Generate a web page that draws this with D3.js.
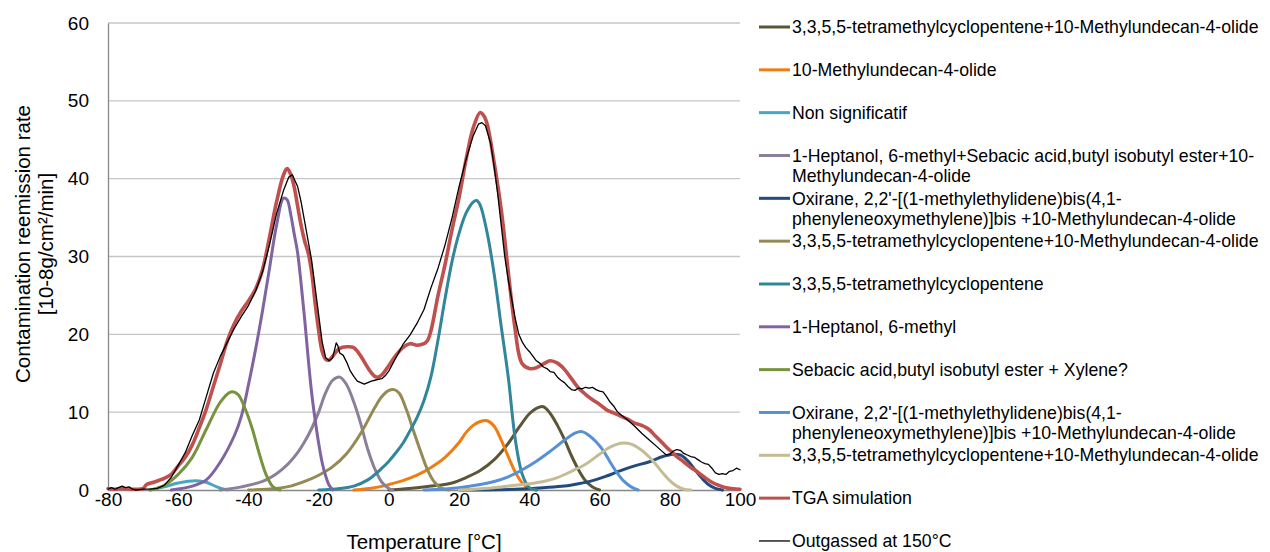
<!DOCTYPE html>
<html><head><meta charset="utf-8">
<script src="https://cdn.jsdelivr.net/npm/d3@7"></script>
<style>body{margin:0;background:#fff}svg{display:block;font-family:"Liberation Sans",Arial,sans-serif}</style>
</head><body><svg id="c" width="1270" height="552"></svg>
<script>
// ---- data: [temperature °C, rate] pairs ----
const xTicks = [-80,-60,-40,-20,0,20,40,60,80,100];
const yTicks = [0,10,20,30,40,50,60];

const darkOlive = [[0,0],[8,0.3],[14,0.6],[18,0.9],[22,1.6],[26,2.5],[30,3.9],[34,6],[37,8],[40,9.8],[42,10.5],[44,10.7],[46,9.8],[48,8.3],[50,6.5],[52,4.4],[54,2.6],[56,1.2],[58,0.4],[60,0]];
const orange = [[-10,0],[-4,0.3],[0,0.7],[4,1.2],[8,1.9],[12,2.9],[16,4.2],[20,6.1],[22,7.4],[24,8.3],[26,8.8],[28,8.9],[30,8.2],[32,6.4],[34,4.3],[36,2.3],[38,0.9],[40,0.2],[42,0]];
const nonSig = [[-68,0],[-64,0.4],[-60,0.9],[-55,1.2],[-52,1.0],[-49,0.4],[-46,0]];
const grayPurple = [[-48,0],[-42,0.4],[-36,1.1],[-32,2.1],[-30,2.8],[-28,3.7],[-26,4.8],[-24,6.2],[-22,7.9],[-20,10],[-18,12.5],[-16,14.1],[-14,14.5],[-12,13.5],[-10,11.3],[-8,8.5],[-6,5.2],[-4,2.7],[-2,1],[0,0.2],[1,0]];
const darkBlue = [[20,0],[36,0.1],[44,0.3],[50,0.5],[54,0.8],[58,1.2],[62,1.8],[66,2.5],[70,3.1],[74,3.6],[78,4.3],[81,4.6],[83,4.5],[85,3.8],[87,2.7],[89,1.6],[91,0.7],[93,0.2],[95,0]];
const olive = [[-40,0],[-32,0.2],[-28,0.5],[-24,1.1],[-20,1.9],[-16,3],[-12,4.7],[-8,7.3],[-4,10.6],[-2,12],[0,12.8],[1.5,12.9],[3,12.4],[5,10.3],[7,7.6],[9,5],[11,2.6],[13,1],[15,0.2],[17,0]];
const darkTeal = [[-20,0],[-14,0.2],[-10,0.5],[-6,1.3],[-2,2.8],[0,3.7],[2,4.8],[4,6],[6,7.6],[8,9.3],[10,11.5],[12,14.6],[14,19.3],[16,24.6],[18,29.4],[20,33],[22,35.6],[24,37],[25,37.2],[26,36.6],[28,33],[30,27.7],[32,21],[34,14.5],[36,6.5],[38,2],[40,0.3],[42,0]];
const purple = [[-62,0],[-56,0.5],[-52,1.3],[-48,3.6],[-44,7],[-42,9.5],[-40,13.5],[-38,18],[-36,23],[-34,28.5],[-32,34],[-30,37.5],[-29,37.3],[-28,35.5],[-27,33],[-26,30.5],[-25,26.5],[-24,22],[-23,17],[-22,12.5],[-21,9],[-20,6],[-19,3.5],[-18,1.8],[-17,0.6],[-16,0]];
const green = [[-68,0],[-64,0.6],[-60,2],[-56,4.2],[-52,7.8],[-48,11.3],[-45,12.6],[-43,12.3],[-41,10.5],[-39,8],[-37,4.8],[-35,2],[-33,0.4],[-31,0]];
const lightBlue = [[10,0],[20,0.3],[26,0.7],[30,1.1],[34,1.7],[38,2.6],[42,3.7],[46,5],[50,6.4],[53,7.3],[55,7.5],[57,7],[59,6.2],[61,5.1],[63,3.6],[65,2.2],[67,1.1],[69,0.4],[71,0]];
const khaki = [[20,0],[30,0.3],[36,0.6],[40,0.8],[44,1.1],[48,1.6],[52,2.4],[56,3.3],[60,4.6],[63,5.5],[66,6],[68,6.0],[70,5.7],[72,5.1],[74,4.3],[76,3.3],[78,2.2],[80,1.2],[82,0.5],[84,0.1],[86,0]];
const tga = [[-80,0.2],[-78,0.1],[-76,0.2],[-74,0.1],[-72,0.1],[-70,0.2],[-69,0.7],[-67,1.0],[-64,1.5],[-62,2.0],[-60,3.1],[-58,4.2],[-56,5.8],[-54,8.0],[-52,10.4],[-50,13.3],[-48,16.2],[-46,19.2],[-44,21.4],[-42,23.0],[-40,24.3],[-38,25.8],[-36,28.3],[-34,32.5],[-32,37],[-30,40.5],[-29,41.3],[-28,40.6],[-27,39],[-26,36.5],[-25,34],[-24,32],[-23,30.5],[-22,28],[-21,24],[-20,20.5],[-19,17.8],[-18,16.8],[-17,16.7],[-16,17.2],[-14,18.2],[-12,18.4],[-10,18.3],[-8,17.2],[-6,15.7],[-4,14.6],[-3,14.5],[-2,14.8],[0,16],[2,17.3],[4,18.3],[6,18.8],[8,18.6],[10,18.8],[11,19.2],[12,20.5],[14,25],[16,29],[18,33.5],[20,37.6],[22,42.5],[24,46.5],[26,48.5],[27,48.1],[28,47],[30,42],[32,36],[34,28],[35,24],[36,20.5],[37,17.5],[38,16.2],[40,15.6],[42,15.7],[44,16.2],[46,16.6],[48,16.3],[50,15.5],[52,14.3],[54,13.1],[56,12.3],[58,11.6],[60,11],[62,10.3],[64,9.9],[66,9.5],[68,9.1],[70,8.6],[72,8.3],[74,7.8],[76,6.9],[78,6],[80,5.1],[82,4.3],[84,3.6],[86,2.9],[88,2.3],[90,1.6],[92,1.0],[94,0.6],[96,0.3],[98,0.15],[100,0.1]];
const outgassed = [[-80,0.1],[-79,0.3],[-78,0.1],[-77,0.3],[-76,0.5],[-75,0.3],[-74,0.4],[-73,0.1],[-72,0],[-70,0.1],[-68,0.1],[-66,0.2],[-64,0.6],[-62,1.6],[-60,3.2],[-58,4.8],[-56,7],[-54,9],[-52,12],[-50,15],[-48,17.2],[-46,19],[-44,20.8],[-42,22.3],[-40,23.7],[-38,25.5],[-36,28],[-34,31.5],[-32,35.5],[-30,38.5],[-28.5,40.2],[-27.5,40.5],[-26,39],[-25,37],[-24,34.5],[-23,32],[-22,29.5],[-21,26],[-20,22.5],[-19,19],[-18,17],[-17,16.6],[-16,17],[-15,18.9],[-14.5,18.5],[-14,17.6],[-13,17.3],[-12,16.4],[-11,15.3],[-10,14.6],[-9,14],[-8,13.8],[-7,13.6],[-6,13.8],[-5,14],[-4,14.1],[-3,14.2],[-2,14.3],[-1,14.7],[0,15.3],[2,17],[4,18.7],[6,19.9],[8,21.4],[10,23.2],[12,26],[14,28.5],[16,31.5],[18,35],[20,39],[22,42.5],[24,45.5],[25.5,47],[26.5,47.2],[27.5,46.8],[29,44.5],[30,41.5],[31,38],[32,34],[33,30],[34,27],[35,24.5],[36,22],[37,20],[38,19],[39,18.3],[40,17.8],[41,17.2],[42,16.6],[43,16.3],[44,15.8],[45,15.6],[46,15.2],[47,15.1],[48,14.5],[49,14.1],[50,13.8],[51,13.3],[52,12.9],[53,12.8],[54,13.1],[55,13.0],[56,13.2],[57,13.1],[58,13.2],[59,12.9],[60,12.7],[61,12.6],[62,12.0],[63,11.3],[64,10.8],[65,10.1],[66,9.7],[68,9.0],[70,8.2],[72,7.3],[74,6.5],[76,5.7],[78,4.9],[79,4.5],[80,4.6],[81,5.0],[82,5.2],[83,5.1],[84,4.7],[85,4.5],[86,4.3],[87,4.2],[88,3.9],[89,3.6],[90,3.4],[91,3.3],[92,2.8],[93,2.2],[94,2.0],[95,2.1],[96,2.0],[97,2.4],[98,2.5],[99,2.8],[100,2.6]];

const seriesNames = [
  "3,3,5,5-tetramethylcyclopentene+10-Methylundecan-4-olide",
  "10-Methylundecan-4-olide",
  "Non significatif",
  "1-Heptanol, 6-methyl+Sebacic acid,butyl isobutyl ester+10-\nMethylundecan-4-olide",
  "Oxirane, 2,2'-[(1-methylethylidene)bis(4,1-\nphenyleneoxymethylene)]bis +10-Methylundecan-4-olide",
  "3,3,5,5-tetramethylcyclopentene+10-Methylundecan-4-olide",
  "3,3,5,5-tetramethylcyclopentene",
  "1-Heptanol, 6-methyl",
  "Sebacic acid,butyl isobutyl ester + Xylene?",
  "Oxirane, 2,2'-[(1-methylethylidene)bis(4,1-\nphenyleneoxymethylene)]bis +10-Methylundecan-4-olide",
  "3,3,5,5-tetramethylcyclopentene+10-Methylundecan-4-olide",
  "TGA simulation",
  "Outgassed at 150°C"
];
const seriesData = [darkOlive, orange, nonSig, grayPurple, darkBlue, olive, darkTeal, purple, green, lightBlue, khaki, tga, outgassed];
const seriesColors = ["#5b5638","#ef7d12","#4aa6be","#8c7f99","#234a7c","#948a54","#31869c","#8064a2","#77933c","#5890d6","#c4bc94","#c0504d","#000000"];

// ---- drawing ----
const svg = d3.select("#c");
const x = d3.scaleLinear().domain([-80,100]).range([108,740]);
const y = d3.scaleLinear().domain([0,60]).range([490,23]);

// gridlines
svg.append("g").selectAll("line").data(yTicks.filter(d=>d>0)).join("line")
  .attr("x1",x(-80)).attr("x2",x(100)).attr("y1",d=>y(d)).attr("y2",d=>y(d))
  .attr("stroke","#c6c6c6").attr("stroke-width",1.3);

// axes
const fmt = d => String(d);
const yAxis = svg.append("g").attr("transform",`translate(${x(-80)},0)`)
  .call(d3.axisLeft(y).tickValues(yTicks).tickFormat(fmt).tickSize(0).tickPadding(19));
const xAxis = svg.append("g").attr("transform",`translate(0,${y(0)})`)
  .call(d3.axisBottom(x).tickValues(xTicks).tickFormat(fmt).tickSize(0).tickPadding(2));
[yAxis,xAxis].forEach(g=>{
  g.select(".domain").attr("stroke","#888").attr("stroke-width",1.3);
  g.selectAll("text").attr("font-size",19).attr("fill","#000").attr("font-family","Liberation Sans, Arial, sans-serif");
});

// lines
const plot = svg.append("g");
seriesData.forEach((data,i)=>{
  const last = i===seriesData.length-1;
  const line = d3.line().x(d=>x(d[0])).y(d=>Math.min(y(d[1]), y(0)))
    .curve(last ? d3.curveLinear : d3.curveCatmullRom.alpha(0.5));
  plot.append("path").datum(data)
    .attr("d", line(data))
    .attr("fill","none").attr("stroke",seriesColors[i])
    .attr("stroke-width", last ? 1.3 : (i===11 ? 3.6 : 3))
    .attr("stroke-linejoin","round").attr("stroke-linecap","round");
});

// legend (white box covering axis overflow, as in the reference)
const lg = svg.append("g");
lg.append("rect").attr("x",756).attr("y",0).attr("width",514).attr("height",552).attr("fill","#fff");
seriesNames.forEach((name,i)=>{
  const cy = 27 + i*42.83;
  lg.append("line").attr("x1",759).attr("x2",790).attr("y1",cy).attr("y2",cy)
    .attr("stroke",seriesColors[i]).attr("stroke-width", i===12 ? 1.3 : 3);
  name.split("\n").forEach((t,k)=>{
    lg.append("text").attr("x",792).attr("y",cy + k*20.5).attr("dy","0.35em")
      .attr("font-size",17.7).attr("fill","#000").text(t);
  });
});

// axis titles
svg.append("text").attr("x",424).attr("y",549).attr("text-anchor","middle")
  .attr("font-size",20.5).text("Temperature [°C]");
const yt = svg.append("text").attr("transform","translate(0,244) rotate(-90)").attr("text-anchor","middle").attr("font-size",20.5);
yt.append("tspan").attr("x",0).attr("y",30).text("Contamination reemission rate");
yt.append("tspan").attr("x",0).attr("y",53).text("[10-8g/cm²/min]");
</script></body></html>
